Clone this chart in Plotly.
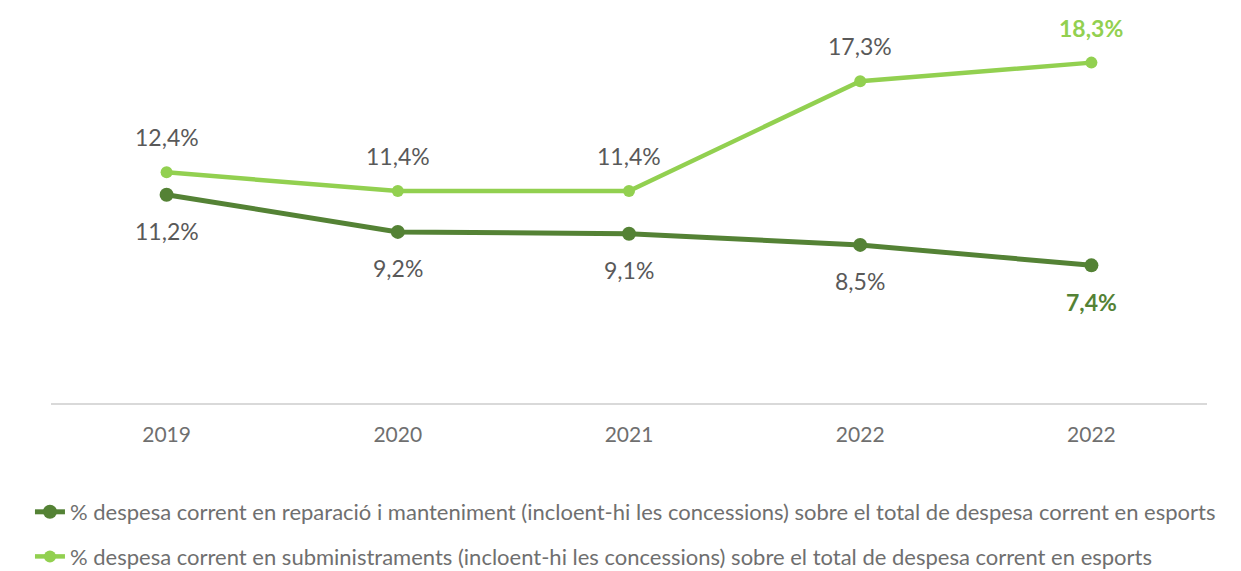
import plotly.graph_objects as go

categories = ["2019", "2020", "2021", "2022", "2022"]
manteniment = [11.2, 9.2, 9.1, 8.5, 7.4]
subministraments = [12.4, 11.4, 11.4, 17.3, 18.3]
name_mant = "% despesa corrent en reparació i manteniment (incloent-hi les concessions) sobre el total de despesa corrent en esports"
name_subm = "% despesa corrent en subministraments (incloent-hi les concessions) sobre el total de despesa corrent en esports"

DARK = "#548235"
LIGHT = "#92D050"
GRAY = "#595959"
TICKGRAY = "#6f6f6f"
FONT = "Lato"

xs = list(range(len(categories)))

def fmt(v):
    return f"{v:.1f}".replace(".", ",") + "%"

fig = go.Figure()
fig.add_trace(go.Scatter(x=xs, y=manteniment, mode="lines+markers", name=name_mant,
                         legendgroup="a",
                         line=dict(color=DARK, width=5), marker=dict(size=14, color=DARK)))
fig.add_trace(go.Scatter(x=xs, y=subministraments, mode="lines+markers", name=name_subm,
                         legendgroup="b",
                         line=dict(color=LIGHT, width=4.5), marker=dict(size=12, color=LIGHT)))

last = len(xs) - 1
for i, v in enumerate(manteniment):
    bold = i == last
    fig.add_annotation(x=xs[i], y=v, text=f"<b>{fmt(v)}</b>" if bold else fmt(v),
                       showarrow=False, yshift=-37 if bold else -36,
                       font=dict(family=FONT, size=23, color=DARK if bold else GRAY))
for i, v in enumerate(subministraments):
    bold = i == last
    fig.add_annotation(x=xs[i], y=v, text=f"<b>{fmt(v)}</b>" if bold else fmt(v),
                       showarrow=False, yshift=35,
                       font=dict(family=FONT, size=23, color=LIGHT if bold else GRAY))

fig.update_layout(
    width=1241, height=571,
    margin=dict(l=43, r=42, t=23, b=176, autoexpand=False),
    paper_bgcolor="white", plot_bgcolor="white",
    font=dict(family=FONT, color=GRAY, size=21),
    xaxis=dict(tickmode="array", tickvals=xs, ticktext=categories, range=[-0.5, 4.5],
               showgrid=False, zeroline=False, showline=True, linecolor="#D9D9D9", linewidth=1.5,
               ticks="", ticklabelstandoff=12,
               tickfont=dict(size=21, color=TICKGRAY, family=FONT)),
    yaxis=dict(range=[0, 20], visible=False),
    legend=dict(orientation="v", xref="container", yref="container",
                x=0.0177, xanchor="left", y=1 - 483 / 571, yanchor="top",
                font=dict(size=22, color=TICKGRAY, family=FONT), tracegroupgap=13,
                traceorder="grouped",
                itemwidth=30, bgcolor="rgba(0,0,0,0)"),
    showlegend=True,
)
fig.write_html("out.html")
